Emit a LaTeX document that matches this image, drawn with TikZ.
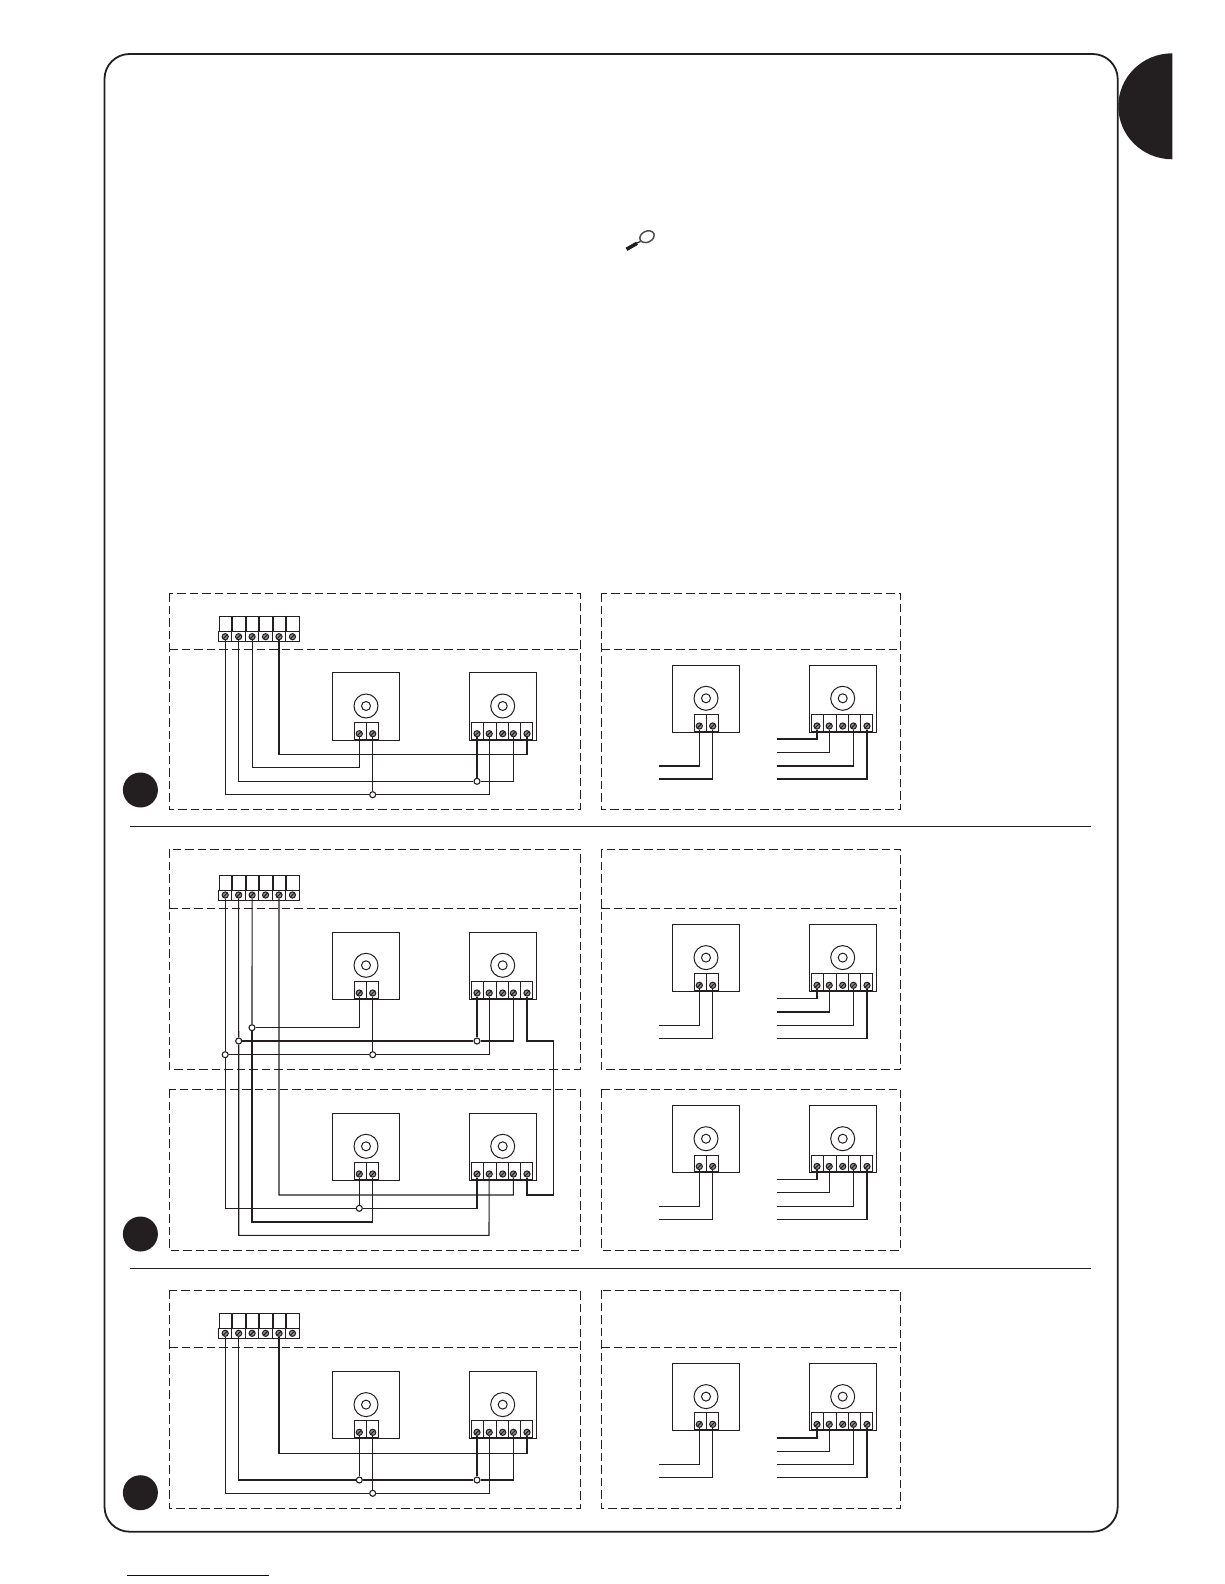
\documentclass[tikz,border=0pt]{standalone}
\usepackage{tikz}
\definecolor{inkblack}{HTML}{231F20}
\definecolor{rulenavy}{HTML}{000080}
\tikzset{
  wire/.style = {inkblack, line width = 1.1pt, line join = miter},
  thinbox/.style = {inkblack, line width = 1pt},
  dashbox/.style = {inkblack, line width = 1pt, dash pattern = on 8.5pt off 4pt},
  screw/.style = {circle, draw = inkblack, fill = black!45, line width = 1pt, inner sep = 0pt, minimum size = 6.2pt,
    path picture = {\draw[inkblack, line width = 1pt] (path picture bounding box.south west) -- (path picture bounding box.north east);}},
  joint/.style = {circle, draw = inkblack, line width = 1.1pt, inner sep = 0pt, minimum size = 6pt},
  hub/.style = {circle, draw = inkblack, line width = 1pt, inner sep = 0pt},
  badge/.style = {circle, fill = inkblack, inner sep = 0pt, minimum size = 35pt}
}
% dashed panel: left, right, top, divider, bottom
\newcommand{\panel}[5]{
  \draw[dashbox] (#1, #3) rectangle (#2, #5);
  \draw[dashbox] (#1, #4) -- (#2, #4);
}
% six way block on top of each panel, y is the top of the upper row
\newcommand{\tblock}[2]{
  \foreach \i in {1, ..., 6} {
    \draw[thinbox] ({219.3 + 13.45 * (\i - 1)}, #2) rectangle ({231.8 + 13.45 * (\i - 1)}, #2 + 15);
    \draw[thinbox] ({218.4 + 13.45 * (\i - 1)}, #2 + 15) rectangle ({231.85 + 13.45 * (\i - 1)}, #2 + 25);
    \node[screw] (#1-\i) at ({225.2 + 13.45 * (\i - 1)}, #2 + 20) {};
  }
}
% box with two way connector
\newcommand{\motortwo}[3]{
  \begin{scope}[shift = {(#2, #3)}]
    \draw[thinbox] (0, 0) rectangle (67, 67.3);
    \node[hub, minimum size = 24pt] (#1-o) at (33.7, 33.3) {};
    \node[hub, minimum size = 9pt] (#1-c) at (33.7, 33.3) {};
    \draw[thinbox, fill = white] (21.7, 49.6) rectangle (46.4, 66.3);
    \draw[thinbox] (34, 49.6) -- (34, 66.3);
    \node[screw] (#1-1) at (27, 61) {};
    \node[screw] (#1-2) at (40.4, 61) {};
  \end{scope}
}
% box with five way connector
\newcommand{\motorfive}[3]{
  \begin{scope}[shift = {(#2, #3)}]
    \draw[thinbox] (0, 0) rectangle (67.7, 67.3);
    \node[hub, minimum size = 24pt] (#1-o) at (33.7, 33.3) {};
    \node[hub, minimum size = 9pt] (#1-c) at (33.7, 33.3) {};
    \draw[thinbox, fill = white] (2.7, 49.6) rectangle (63.7, 66.3);
    \foreach \d in {14.7, 27, 39.3, 51.7}
      \draw[thinbox] (\d, 49.6) -- (\d, 66.3);
    \foreach \i/\s in {1/8, 2/20.2, 3/33.7, 4/44.4, 5/58}
      \node[screw] (#1-\i) at (\s, 61) {};
  \end{scope}
}
% free wire ends in the right hand panels
\newcommand{\leadstwo}[3]{
  \coordinate (#1-e1) at (658.6, #2);
  \coordinate (#1-e2) at (658.6, #3);
  \draw[wire] (#1-1) |- (#1-e1);
  \draw[wire] (#1-2) |- (#1-e2);
}
\newcommand{\leadsfive}[5]{
  \coordinate (#1-e1) at (777.3, #2);
  \coordinate (#1-e2) at (777.3, #3);
  \coordinate (#1-e4) at (777.3, #4);
  \coordinate (#1-e5) at (777.3, #5);
  \draw[wire] (#1-1) |- (#1-e1);
  \draw[wire] (#1-2) |- (#1-e2);
  \draw[wire] (#1-4) |- (#1-e4);
  \draw[wire] (#1-5) |- (#1-e5);
}

\begin{document}
\begin{tikzpicture}[x = 1pt, y = -1pt]
  \useasboundingbox (0, 0) rectangle (1224, 1584);
  \draw[inkblack, line width = 1.8pt, rounded corners = 25pt] (104.5, 54) rectangle (1117.7, 1531.7);
  \fill[inkblack] (1172.3, 53.3) arc (270:90:54 and 53) -- cycle;
  \draw[rulenavy, line width = 0.9pt] (127.3, 1575.3) -- (269, 1575.3);

  % magnifier
  \draw[inkblack!80, line width = 1.5pt, rotate around = {25:(647, 236.7)}] (647, 236.7) ellipse (7.5 and 5.5);
  \draw[inkblack, line width = 1.2pt] (640.5, 241.5) -- (636, 243.5);
  \draw[inkblack, line width = 3.6pt] (637, 243.3) -- (626.5, 249.3);

  % separators
  \coordinate (s1) at (129.5, 826);
  \coordinate (s2) at (1091, 826);
  \coordinate (s3) at (129.5, 1268.7);
  \coordinate (s4) at (1091, 1268.7);
  \draw[inkblack, line width = 0.9pt] (s1) -- (s2);
  \draw[inkblack, line width = 0.9pt] (s3) -- (s4);

  \node[badge] (n1) at (140.4, 790) {};
  \node[badge] (n2) at (140.4, 1234) {};
  \node[badge] (n3) at (140.4, 1492.7) {};

  \panel{169.3}{580.3}{593.3}{649.3}{809.3}
  \panel{601.3}{900.7}{593.3}{649.3}{809.3}
  \panel{169.3}{580.3}{849.3}{908.3}{1069.3}
  \panel{601.3}{900.7}{849.3}{908.3}{1069.3}
  \draw[dashbox] (169.3, 1089.3) rectangle (580.3, 1250.3);
  \draw[dashbox] (601.3, 1089.3) rectangle (900.7, 1250.3);
  \panel{169.3}{580.3}{1290.3}{1347.3}{1508.3}
  \panel{601.3}{900.7}{1290.3}{1347.3}{1508.3}

  % first system
  \tblock{ta}{616.7}
  \motortwo{aa}{332.3}{672.7}
  \motorfive{ab}{469}{672.7}
  \node[joint] (ja) at (372.7, 794.7) {};
  \node[joint] (jb) at (477, 781.3) {};
  \coordinate (ca) at (359.3, 767.7);
  \coordinate (cb) at (527, 754.7);
  \draw[wire] (ta-1) |- (ja) -| (ab-2);
  \draw[wire] (aa-2) -- (ja);
  \draw[wire] (ta-2) |- (jb) -| (ab-4);
  \draw[wire] (ab-1) -- (jb);
  \draw[wire] (ta-3) |- (ca) -- (aa-1);
  \draw[wire] (ta-5) |- (cb) -- (ab-5);
  \motortwo{ra}{672.3}{665}
  \motorfive{rb}{809}{665}
  \leadstwo{ra}{766}{779}
  \leadsfive{rb}{739}{752.3}{766}{779}

  % second system
  \tblock{tb}{875}
  \motortwo{ba}{332.3}{932}
  \motorfive{bb}{469}{932}
  \motortwo{ca}{332.3}{1113}
  \motorfive{cb}{469}{1113}
  \node[joint] (jc) at (252, 1027.7) {};
  \node[joint] (jd) at (238.7, 1041) {};
  \node[joint] (je) at (477, 1041) {};
  \node[joint] (jf) at (225.2, 1054.7) {};
  \node[joint] (jg) at (372.7, 1054.7) {};
  \node[joint] (jh) at (359.3, 1208.3) {};
  \coordinate (cc) at (359.3, 1027.7);
  \coordinate (cd) at (553.3, 1041);
  \coordinate (ce) at (553.3, 1195);
  \coordinate (cf) at (527, 1195);
  \coordinate (cg) at (513.3, 1195);
  \coordinate (ci) at (372.7, 1222);
  \coordinate (cj) at (489, 1235.3);
  \draw[wire] (tb-3) -- (jc);
  \draw[wire] (jc) -- (cc) -- (ba-1);
  \draw[wire] (tb-2) -- (jd);
  \draw[wire] (jd) -- (je) -| (bb-4);
  \draw[wire] (bb-1) -- (je);
  \draw[wire] (tb-1) -- (jf);
  \draw[wire] (jf) -- (jg) -| (bb-2);
  \draw[wire] (ba-2) -- (jg);
  \draw[wire] (bb-5) |- (cd) -- (ce) -- (cf) -- (cb-5);
  \draw[wire] (tb-5) |- (cg) -- (cb-4);
  \draw[wire] (jf) |- (jh) -| (cb-1);
  \draw[wire] (ca-1) -- (jh);
  \draw[wire] (jc) |- (ci) -- (ca-2);
  \draw[wire] (jd) |- (cj) -- (cb-2);
  \motortwo{sa}{672.3}{924.3}
  \motorfive{sb}{809}{924.3}
  \leadstwo{sa}{1025.3}{1038.3}
  \leadsfive{sb}{998.7}{1012}{1025.3}{1038.3}
  \motortwo{ua}{672.3}{1105.4}
  \motorfive{ub}{809}{1105.4}
  \leadstwo{ua}{1206.3}{1219.3}
  \leadsfive{ub}{1179.3}{1192.7}{1206.3}{1219.3}

  % third system
  \tblock{tc}{1313.3}
  \motortwo{da}{332.3}{1371.3}
  \motorfive{db}{469}{1371.3}
  \node[joint] (jk) at (359.3, 1480) {};
  \node[joint] (jl) at (477, 1480) {};
  \node[joint] (jm) at (372.7, 1493.3) {};
  \coordinate (cm) at (527, 1453.3);
  \draw[wire] (tc-5) |- (cm) -- (db-5);
  \draw[wire] (tc-2) |- (jk);
  \draw[wire] (jk) -- (jl) -| (db-4);
  \draw[wire] (da-1) -- (jk);
  \draw[wire] (db-1) -- (jl);
  \draw[wire] (tc-1) |- (jm) -| (db-2);
  \draw[wire] (da-2) -- (jm);
  \motortwo{va}{672.3}{1363.3}
  \motorfive{vb}{809}{1363.3}
  \leadstwo{va}{1464.3}{1477.7}
  \leadsfive{vb}{1438}{1451.3}{1464.3}{1477.7}
\end{tikzpicture}
\end{document}
